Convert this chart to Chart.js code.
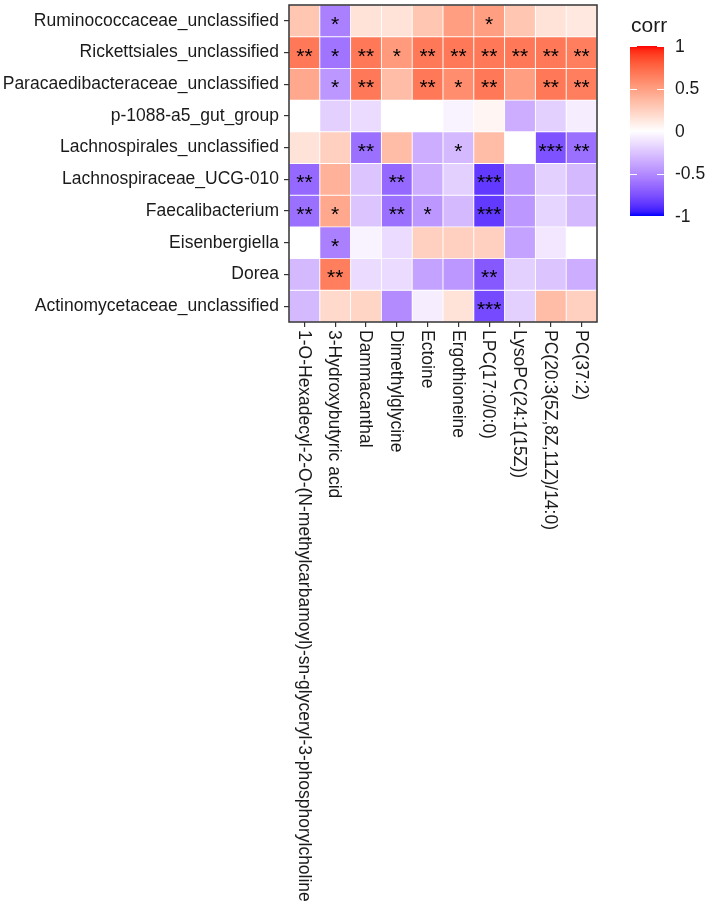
<!DOCTYPE html>
<html>
<head>
<meta charset="utf-8">
<script src="https://cdn.jsdelivr.net/npm/chart.js@4.4.1/dist/chart.umd.min.js"></script>
<style>
    body { margin: 0; background: #fff; }
    #wrap { width: 709px; height: 907px; position: relative; }
</style>
</head>
<body>
<div id="wrap"><canvas id="heat"></canvas></div>
<script>
// row labels (top to bottom) and column labels (left to right)
const taxa = [
    "Ruminococcaceae_unclassified",
    "Rickettsiales_unclassified",
    "Paracaedibacteraceae_unclassified",
    "p-1088-a5_gut_group",
    "Lachnospirales_unclassified",
    "Lachnospiraceae_UCG-010",
    "Faecalibacterium",
    "Eisenbergiella",
    "Dorea",
    "Actinomycetaceae_unclassified"
];
const metabolites = [
    "1-O-Hexadecyl-2-O-(N-methylcarbamoyl)-sn-glyceryl-3-phosphorylcholine",
    "3-Hydroxybutyric acid",
    "Dammacanthal",
    "Dimethylglycine",
    "Ectoine",
    "Ergothioneine",
    "LPC(17:0/0:0)",
    "LysoPC(24:1(15Z))",
    "PC(20:3(5Z,8Z,11Z)/14:0)",
    "PC(37:2)"
];

// correlation per taxon, one value per metabolite
const corrRuminococcaceae   = [0.30, -0.55, 0.15, 0.15, 0.30, 0.50, 0.50, 0.30, 0.15, 0.12];
const corrRickettsiales     = [0.68, -0.60, 0.68, 0.52, 0.68, 0.68, 0.68, 0.68, 0.68, 0.65];
const corrParacaedibacter   = [0.45, -0.45, 0.68, 0.35, 0.68, 0.58, 0.68, 0.50, 0.68, 0.65];
const corrP1088             = [0.00, -0.20, -0.15, 0.00, 0.00, -0.05, 0.05, -0.35, -0.20, -0.07];
const corrLachnospirales    = [0.15, 0.25, -0.62, 0.35, -0.35, -0.30, 0.35, 0.00, -0.75, -0.62];
const corrLachnoUCG010      = [-0.65, 0.40, -0.25, -0.65, -0.35, -0.20, -0.85, -0.45, -0.20, -0.30];
const corrFaecalibacterium  = [-0.62, 0.45, -0.25, -0.62, -0.45, -0.30, -0.85, -0.45, -0.18, -0.30];
const corrEisenbergiella    = [0.00, -0.55, -0.05, -0.15, 0.25, 0.25, 0.25, -0.40, -0.10, 0.00];
const corrDorea             = [-0.30, 0.65, -0.15, -0.15, -0.40, -0.45, -0.72, -0.20, -0.25, -0.35];
const corrActinomycetaceae  = [-0.30, 0.20, 0.22, -0.50, -0.07, 0.15, -0.78, -0.20, 0.35, 0.25];

const corrValues = [
    corrRuminococcaceae, corrRickettsiales, corrParacaedibacter, corrP1088, corrLachnospirales,
    corrLachnoUCG010, corrFaecalibacterium, corrEisenbergiella, corrDorea, corrActinomycetaceae
];

// significance marks
const signif = [
    ["", "*", "", "", "", "", "*", "", "", ""],
    ["**", "*", "**", "*", "**", "**", "**", "**", "**", "**"],
    ["", "*", "**", "", "**", "*", "**", "", "**", "**"],
    ["", "", "", "", "", "", "", "", "", ""],
    ["", "", "**", "", "", "*", "", "", "***", "**"],
    ["**", "", "", "**", "", "", "***", "", "", ""],
    ["**", "*", "", "**", "*", "", "***", "", "", ""],
    ["", "*", "", "", "", "", "", "", "", ""],
    ["", "**", "", "", "", "", "**", "", "", ""],
    ["", "", "", "", "", "", "***", "", "", ""]
];

const legendBreaks = [1, 0.5, 0, -0.5, -1];

const FONT = '"Liberation Sans", Arial, Helvetica, sans-serif';
const TEXT_COL = '#1a1a1a';

// --- colour ramp blue - white - red interpolated in Lab (like ggplot gradient2)
function srgbToLinear(c) {
    c /= 255;
    return c <= 0.04045 ? c / 12.92 : Math.pow((c + 0.055) / 1.055, 2.4);
}
function linearToSrgb(c) {
    let v = c <= 0.0031308 ? 12.92 * c : 1.055 * Math.pow(c, 1 / 2.4) - 0.055;
    return Math.max(0, Math.min(255, Math.round(v * 255)));
}
function rgbToLab(rgb) {
    let r = srgbToLinear(rgb[0]), g = srgbToLinear(rgb[1]), b = srgbToLinear(rgb[2]);
    let x = (r * 0.4124 + g * 0.3576 + b * 0.1805) / 0.95047;
    let y = (r * 0.2126 + g * 0.7152 + b * 0.0722);
    let z = (r * 0.0193 + g * 0.1192 + b * 0.9505) / 1.08883;
    const f = t => t > 0.008856 ? Math.cbrt(t) : 7.787 * t + 16 / 116;
    let fx = f(x), fy = f(y), fz = f(z);
    return [116 * fy - 16, 500 * (fx - fy), 200 * (fy - fz)];
}
function labToRgb(lab) {
    let fy = (lab[0] + 16) / 116, fx = fy + lab[1] / 500, fz = fy - lab[2] / 200;
    const finv = t => t * t * t > 0.008856 ? t * t * t : (t - 16 / 116) / 7.787;
    let x = finv(fx) * 0.95047, y = finv(fy), z = finv(fz) * 1.08883;
    let r = x * 3.2406 + y * -1.5372 + z * -0.4986;
    let g = x * -0.9689 + y * 1.8758 + z * 0.0415;
    let b = x * 0.0557 + y * -0.2040 + z * 1.0570;
    return [linearToSrgb(r), linearToSrgb(g), linearToSrgb(b)];
}
const labRed = rgbToLab([255, 0, 0]);
const labWhite = rgbToLab([255, 255, 255]);
const labBlue = rgbToLab([0, 0, 255]);

function corrColor(v) {
    let t = Math.min(1, Math.abs(v));
    let end = v >= 0 ? labRed : labBlue;
    let lab = [0, 1, 2].map(k => labWhite[k] + (end[k] - labWhite[k]) * t);
    let rgb = labToRgb(lab);
    return 'rgb(' + rgb.join(',') + ')';
}

// one floating-bar dataset per taxon row
const datasets = taxa.map((name, i) => ({
    label: name,
    data: metabolites.map(() => [i, i + 1]),
    backgroundColor: corrValues[i].map(corrColor),
    borderColor: 'rgba(255,255,255,0.55)',
    borderWidth: 0.8,
    borderSkipped: false,
    barPercentage: 1,
    categoryPercentage: 1,
    grouped: false
}));

const PANEL = { left: 289, top: 5, right: 597, bottom: 322 };

// stars, rotated x labels, panel border and colour bar
const decorPlugin = {
    id: 'decor',
    afterDatasetsDraw(chart) {
        const ctx = chart.ctx;
        const xs = chart.scales.x, ys = chart.scales.y;
        const area = chart.chartArea;
        ctx.save();
        ctx.fillStyle = '#000';
        ctx.font = '21px ' + FONT;
        ctx.textAlign = 'center';
        ctx.textBaseline = 'alphabetic';
        signif.forEach((row, i) => {
            row.forEach((s, j) => {
                if (!s) return;
                let cx = xs.getPixelForValue(j);
                let cy = ys.getPixelForValue(i + 0.5);
                ctx.fillText(s, cx, cy + 10);
            });
        });
        // panel border
        ctx.strokeStyle = '#333';
        ctx.lineWidth = 1.5;
        ctx.strokeRect(area.left, area.top, area.right - area.left, area.bottom - area.top);
        ctx.restore();
    },
    afterDraw(chart) {
        const ctx = chart.ctx;
        const xs = chart.scales.x;
        const area = chart.chartArea;
        ctx.save();
        // x labels, rotated clockwise and hanging from the axis
        ctx.fillStyle = TEXT_COL;
        ctx.font = '17.5px ' + FONT;
        ctx.textAlign = 'left';
        ctx.textBaseline = 'middle';
        metabolites.forEach((m, j) => {
            ctx.save();
            ctx.translate(xs.getPixelForValue(j) - 1, area.bottom + 8);
            ctx.rotate(Math.PI / 2);
            ctx.fillText(m, 0, 0);
            ctx.restore();
        });

        // colour bar legend
        const barL = 630, barW = 34, barTop = 46, barBot = 216;
        const yFor = v => barTop + (1 - v) / 2 * (barBot - barTop);
        const grad = ctx.createLinearGradient(0, barTop, 0, barBot);
        for (let k = 0; k <= 40; k++) {
            let v = 1 - k / 20;
            grad.addColorStop(k / 40, corrColor(v));
        }
        ctx.fillStyle = grad;
        ctx.fillRect(barL, barTop, barW, barBot - barTop);
        ctx.strokeStyle = '#fff';
        ctx.lineWidth = 1;
        legendBreaks.forEach(v => {
            let y = Math.round(yFor(v)) + 0.5;
            ctx.beginPath();
            ctx.moveTo(barL, y); ctx.lineTo(barL + 7, y);
            ctx.moveTo(barL + barW - 7, y); ctx.lineTo(barL + barW, y);
            ctx.stroke();
        });
        ctx.fillStyle = TEXT_COL;
        ctx.font = '17.5px ' + FONT;
        ctx.textAlign = 'left';
        ctx.textBaseline = 'middle';
        legendBreaks.forEach(v => {
            ctx.fillText(String(v), barL + 45, yFor(v) + 1);
        });
        ctx.font = '21px ' + FONT;
        ctx.textBaseline = 'alphabetic';
        ctx.fillText('corr', barL + 1, 32);
        ctx.restore();
    }
};

new Chart(document.getElementById('heat'), {
    type: 'bar',
    data: { labels: metabolites, datasets: datasets },
    options: {
        responsive: true,
        maintainAspectRatio: false,
        animation: false,
        layout: { padding: { top: PANEL.top, right: 709 - PANEL.right, left: 0, bottom: 0 } },
        plugins: { legend: { display: false }, tooltip: { enabled: false } },
        scales: {
            x: {
                type: 'category',
                offset: true,
                grid: { offset: false, drawOnChartArea: false, drawTicks: true, tickLength: 5, color: '#333', lineWidth: 1.2 },
                border: { display: false },
                ticks: { callback: () => '', maxRotation: 0, minRotation: 0 },
                afterFit(scale) {
                    scale.height = 907 - PANEL.bottom;
                    scale.paddingLeft = 0;
                    scale.paddingRight = 0;
                }
            },
            y: {
                type: 'linear',
                min: 0,
                max: 10,
                reverse: true,
                grid: { drawOnChartArea: false, drawTicks: true, tickLength: 5, color: '#333', lineWidth: 1.2 },
                border: { display: false },
                afterBuildTicks(scale) {
                    scale.ticks = taxa.map((t, i) => ({ value: i + 0.5 }));
                },
                ticks: {
                    autoSkip: false,
                    padding: 5,
                    color: TEXT_COL,
                    font: { family: FONT, size: 17.5 },
                    callback: (v) => taxa[Math.floor(v)]
                },
                afterFit(scale) {
                    scale.width = PANEL.left;
                    scale.paddingTop = 0;
                    scale.paddingBottom = 0;
                }
            }
        }
    },
    plugins: [decorPlugin]
});
</script>
</body>
</html>
